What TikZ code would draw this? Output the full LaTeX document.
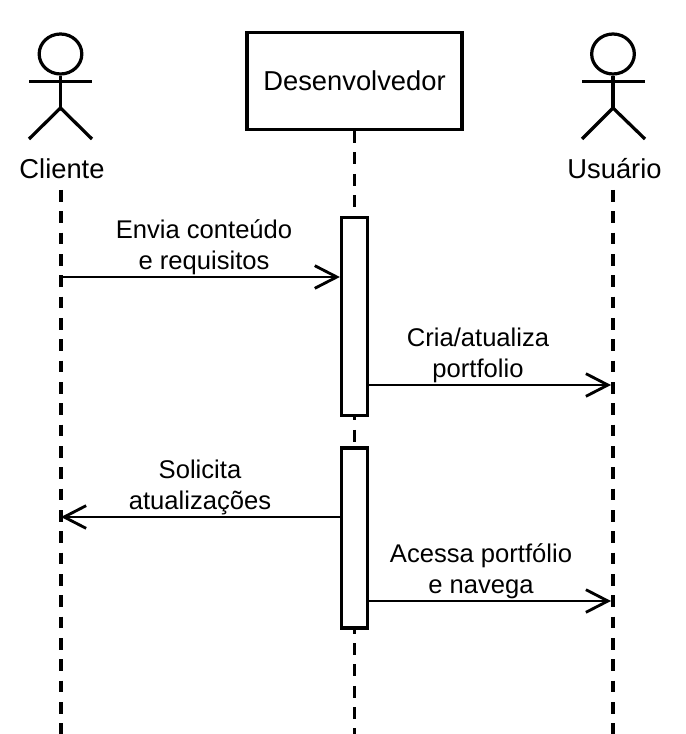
\documentclass[tikz,border=0pt]{standalone}
\usepackage{fontspec}
\setmainfont{Liberation Sans}
\usetikzlibrary{positioning, arrows.meta, shapes.geometric}
\tikzset{linha/.style={line width=0.85mm}}
\tikzset{vida/.style={line width=0.85mm,dash pattern=on 8.8pt off 7.2pt}}
\tikzset{msg/.style={line width=0.75mm,-{Straight Barb[length=16.5pt,width=17pt,line width=0.75mm]}}}
\tikzset{ativa/.style={draw,line width=0.85mm,fill=white,inner sep=0pt}}
\tikzset{rotulo/.style={align=center,font=\fontsize{19.2}{23}\selectfont,inner sep=0pt}}
\tikzset{titulo/.style={align=center,font=\fontsize{20.5}{24}\selectfont,inner sep=0pt}}
\tikzset{cabeca/.style={draw,ellipse,line width=0.85mm,minimum width=32pt,minimum height=30pt,inner sep=0pt}}
\begin{document}
\begin{tikzpicture}[x=0.75pt,y=-0.75pt]
    \useasboundingbox (0,0) rectangle (685,734);
    % atores
    \node[cabeca] (cab1) at (60.5,54) {};
    \coordinate (cint1) at (60.5,108);
    \draw[linha] (cab1) -- (cint1);
    \coordinate (bE1) at (29,81.5); \coordinate (bD1) at (92,81.5);
    \coordinate (pE1) at (29,139); \coordinate (pD1) at (92,139);
    \draw[linha] (bE1) -- (bD1);
    \draw[linha] (pE1) -- (cint1) -- (pD1);
    \node[titulo] (cliente) at (62,169) {Cliente};

    \node[cabeca] (cab2) at (613,54) {};
    \coordinate (cint2) at (613,108);
    \draw[linha] (cab2) -- (cint2);
    \coordinate (bE2) at (582,81.5); \coordinate (bD2) at (645,81.5);
    \coordinate (pE2) at (582,139); \coordinate (pD2) at (645,139);
    \draw[linha] (bE2) -- (bD2);
    \draw[linha] (pE2) -- (cint2) -- (pD2);
    \node[titulo] (usuario) at (614.5,169) {Usuário};

    \node[draw,linha,titulo,minimum width=215*0.75pt,minimum height=97*0.75pt] (dev) at (354.5,81) {Desenvolvedor};

    % linhas de vida
    \coordinate (ini1) at (61,190);
    \coordinate (ini3) at (613,190);
    \coordinate (fim1) at (61,734);
    \coordinate (fim2) at (354.5,734);
    \coordinate (fim3) at (613,734);
    \draw[vida] (ini1) -- (fim1);
    \draw[vida] (dev.south) -- (fim2);
    \draw[vida] (ini3) -- (fim3);

    % ativacoes
    \node[ativa,minimum width=26*0.75pt,minimum height=198*0.75pt] (at1) at (354.5,316.5) {};
    \node[ativa,minimum width=26*0.75pt,minimum height=180*0.75pt] (at2) at (354.5,538) {};

    % mensagens
    \coordinate (c1) at (61,277);
    \coordinate (u1) at (611,385);
    \coordinate (c2) at (61,517);
    \coordinate (u2) at (611,601);
    \draw[msg] (c1) -- (c1 -| at1.west);
    \draw[msg] (at1.east |- u1) -- (u1);
    \draw[msg] (c2 -| at2.west) -- (c2);
    \draw[msg] (at2.east |- u2) -- (u2);

    \node[rotulo] (m1) at (204,247) {Envia conteúdo\\e requisitos};
    \node[rotulo] (m2) at (478,355.5) {Cria/atualiza\\portfolio};
    \node[rotulo] (m3) at (200,487.5) {Solicita\\atualizações};
    \node[rotulo] (m4) at (481,571) {Acessa portfólio\\e navega};
\end{tikzpicture}
\end{document}
